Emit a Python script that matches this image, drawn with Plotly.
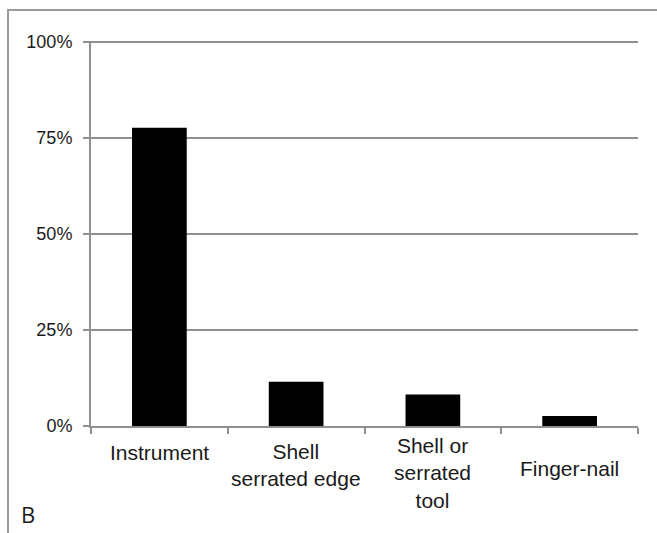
import plotly.graph_objects as go

categories = ["Instrument", "Shell<br>serrated edge", "Shell or<br>serrated<br>tool", "Finger-nail"]
values = [77.7, 11.5, 8.2, 2.6]
y_ticks = [0, 25, 50, 75, 100]
y_tick_labels = ["0%", "25%", "50%", "75%", "100%"]
panel_label = "B"

# vertical centre of each category label, in paper units below the axis
label_y = [-0.07, -0.10, -0.122, -0.11]

W, H = 657, 533
L, R, T, B = 91, 19, 41, 107
pw, ph = W - L - R, H - T - B

fig = go.Figure()
fig.add_trace(go.Bar(x=categories, y=values, marker=dict(color="black", line=dict(width=0)),
                     width=0.4))

grid = "#8f8f8f"
txt = "#1a1a1a"

fig.update_layout(
    width=W, height=H,
    margin=dict(l=L, r=R, t=T, b=B, pad=0),
    paper_bgcolor="white", plot_bgcolor="white",
    showlegend=False,
    font=dict(family="Liberation Sans, Arial, sans-serif", color=txt),
    xaxis=dict(
        type="category", showticklabels=False,
        showline=True, linecolor=grid, linewidth=2,
        ticks="outside", ticklen=6, tickcolor=grid, tickwidth=2,
        tickson="boundaries", showgrid=False, zeroline=False,
    ),
    yaxis=dict(
        range=[0, 100.3], tickvals=y_ticks, ticktext=y_tick_labels,
        showline=True, linecolor=grid, linewidth=2,
        ticks="outside", ticklen=6, tickcolor=grid, tickwidth=2,
        showgrid=True, gridcolor=grid, gridwidth=2, zeroline=False,
        tickfont=dict(size=18, color=txt), ticklabelstandoff=7,
    ),
)

for cat, yy in zip(categories, label_y):
    fig.add_annotation(x=cat, xref="x", y=yy, yref="paper", text=cat, showarrow=False,
                       xanchor="center", yanchor="middle",
                       font=dict(size=21, color=txt), align="center")

# outer frame
fig.add_shape(type="rect", xref="paper", yref="paper",
              x0=(8 - L) / pw, x1=(W + 20 - L) / pw,
              y0=-(H + 20 - T - ph) / ph, y1=(T + ph - 10) / ph,
              line=dict(color="#9a9a9a", width=2), fillcolor="rgba(0,0,0,0)", layer="below")

fig.add_annotation(x=(19 - L) / pw, xref="paper", y=(T + ph - 514) / ph, yref="paper",
                   text=panel_label, showarrow=False, xanchor="left", yanchor="middle",
                   font=dict(family="Open Sans, sans-serif", size=22, color=txt))

fig.write_html("out.html", config={"displayModeBar": False},
               post_script="document.body.style.margin='0';document.body.style.overflow='hidden';")
